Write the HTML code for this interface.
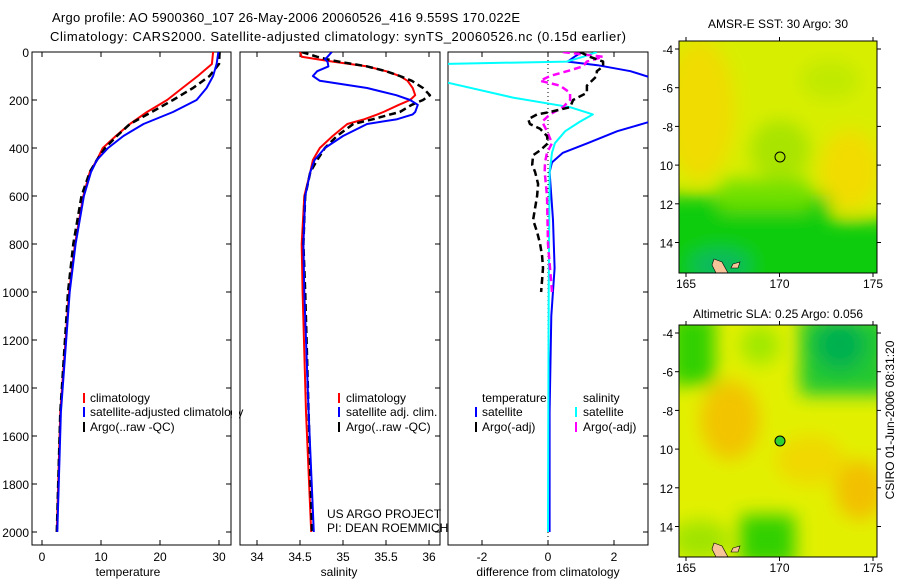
<!DOCTYPE html>
<html><head><meta charset="utf-8"><style>
body{margin:0;background:#fff;}
svg{display:block;font-family:"Liberation Sans",sans-serif;}
</style></head><body>
<svg id="c" width="900" height="580" xmlns="http://www.w3.org/2000/svg">
<defs>
<filter id="bl" x="-50%" y="-50%" width="200%" height="200%"><feGaussianBlur stdDeviation="9"/></filter>
<clipPath id="cp1"><rect x="32" y="52" width="199" height="493"/></clipPath>
<clipPath id="cp2"><rect x="240" y="52" width="200" height="493"/></clipPath>
<clipPath id="cp3"><rect x="448" y="52" width="200" height="493"/></clipPath>
<clipPath id="cm1"><rect x="679" y="41" width="198" height="232"/></clipPath>
<clipPath id="cm2"><rect x="679" y="325" width="198" height="232"/></clipPath>
</defs>
<text x="52" y="22" font-size="13" textLength="468">Argo profile: AO 5900360_107 26-May-2006 20060526_416 9.559S 170.022E</text>
<text x="50" y="41" font-size="13" textLength="576">Climatology: CARS2000. Satellite-adjusted climatology: synTS_20060526.nc (0.15d earlier)</text>

<!-- map 1 -->
<g clip-path="url(#cm1)">
<rect x="679" y="41" width="198" height="232" fill="#d8ee00"/>
<g filter="url(#bl)">
<ellipse cx="700" cy="110" rx="35" ry="70" fill="#f0dc00"/>
<ellipse cx="850" cy="170" rx="30" ry="40" fill="#f2dc00"/>
<ellipse cx="780" cy="150" rx="30" ry="30" fill="#a8e400"/>
<ellipse cx="830" cy="80" rx="30" ry="20" fill="#c0ea00"/>
<rect x="660" y="195" width="170" height="100" fill="#10cc10"/>
<rect x="800" y="220" width="100" height="80" fill="#10cc10"/>
<rect x="720" y="180" width="90" height="30" fill="#70e000"/>
<ellipse cx="720" cy="265" rx="30" ry="15" fill="#10b860"/>
</g>
<polygon points="714,259 722,262 728,273 716,273 712,265" fill="#f7c49a" stroke="#000" stroke-width="0.6"/>
<polygon points="733,264 740,262 738,268 731,268" fill="#f7c49a" stroke="#000" stroke-width="0.6"/>
<circle cx="780" cy="157" r="5" fill="none" stroke="#000" stroke-width="1"/>
</g>
<rect x="679" y="41" width="198" height="232" fill="none" stroke="#000"/>
<text x="778" y="28" font-size="12" text-anchor="middle">AMSR-E SST: 30 Argo: 30</text>

<!-- map 2 -->
<g clip-path="url(#cm2)">
<rect x="679" y="325" width="198" height="232" fill="#e2f000"/>
<g filter="url(#bl)">
<ellipse cx="730" cy="420" rx="30" ry="40" fill="#f2c400"/>
<ellipse cx="860" cy="490" rx="25" ry="30" fill="#f2c000"/>
<ellipse cx="810" cy="460" rx="35" ry="25" fill="#f0d800"/>
<rect x="670" y="315" width="45" height="70" fill="#30d000"/>
<rect x="800" y="315" width="90" height="80" fill="#20c830"/>
<ellipse cx="840" cy="345" rx="25" ry="25" fill="#00b050"/>
<rect x="740" y="515" width="55" height="50" fill="#30d000"/>
<ellipse cx="760" cy="345" rx="20" ry="20" fill="#a0e800"/>
<ellipse cx="700" cy="540" rx="30" ry="20" fill="#a0e400"/>
</g>
<polygon points="714,543 722,546 728,557 716,557 712,549" fill="#f7c49a" stroke="#000" stroke-width="0.6"/>
<polygon points="733,548 740,546 738,552 731,552" fill="#f7c49a" stroke="#000" stroke-width="0.6"/>
<circle cx="780" cy="441" r="5" fill="#30d030" stroke="#000" stroke-width="1"/>
</g>
<rect x="679" y="325" width="198" height="232" fill="none" stroke="#000"/>
<text x="778" y="318" font-size="12" text-anchor="middle">Altimetric SLA: 0.25 Argo: 0.056</text>
<text transform="translate(894,420) rotate(-90)" font-size="12" text-anchor="middle">CSIRO 01-Jun-2006 08:31:20</text>

<g id="maxes"></g>
<g id="plots"></g>

<text x="90" y="402" font-size="12">climatology</text>
<text x="90" y="416" font-size="12">satellite-adjusted climatology</text>
<text x="90" y="431" font-size="12">Argo(..raw -QC)</text>
<rect x="83" y="393" width="2" height="10" fill="#f00"/><rect x="83" y="407" width="2" height="10" fill="#00f"/><rect x="83" y="422" width="2" height="10" fill="#000"/>
<rect x="232" y="390" width="7" height="45" fill="#fff"/>
<text x="346" y="402" font-size="12">climatology</text>
<text x="346" y="416" font-size="12">satellite adj. clim.</text>
<text x="346" y="431" font-size="12">Argo(..raw -QC)</text>
<rect x="338" y="393" width="2" height="10" fill="#f00"/><rect x="338" y="407" width="2" height="10" fill="#00f"/><rect x="338" y="422" width="2" height="10" fill="#000"/>
<text x="327" y="518" font-size="12">US ARGO PROJECT</text>
<text x="327" y="532" font-size="12">PI: DEAN ROEMMICH</text>
<text x="482" y="402" font-size="12">temperature</text>
<text x="482" y="416" font-size="12">satellite</text>
<text x="482" y="431" font-size="12">Argo(-adj)</text>
<rect x="475" y="407" width="2" height="10" fill="#00f"/><rect x="475" y="422" width="2" height="10" fill="#000"/>
<text x="583" y="402" font-size="12">salinity</text>
<text x="583" y="416" font-size="12">satellite</text>
<text x="583" y="431" font-size="12">Argo(-adj)</text>
<rect x="575" y="407" width="2" height="10" fill="#0ff"/><rect x="575" y="422" width="2" height="10" fill="#f0f"/>
</svg>
<script>
const depthTicks=[0,200,400,600,800,1000,1200,1400,1600,1800,2000];
const tempTicks=[0,10,20,30];
const salTicks=[34,34.5,35,35.5,36];
const salTickLabels=["34","34.5","35","35.5","36"];
const diffTicks=[-2,0,2];
const tempDepth=[0,50,100,150,200,250,300,350,400,450,500,600,800,1000,1200,1500,2000];
const tempClim=[29.0,28.8,26.4,23.8,21.2,17.8,14.9,12.5,10.3,9.3,8.1,7.0,5.6,4.6,4.0,3.1,2.5];
const tempSat=[29.9,29.6,29.0,27.9,26.2,22.2,17.2,13.8,11.2,9.3,8.3,7.1,5.7,4.7,4.1,3.2,2.6];
const tempArgo=[30.1,30.0,28.4,25.6,22.2,18.6,14.9,12.7,10.7,9.3,8.1,6.7,5.3,4.4,3.9,3.1,2.5];
const salDepth=[0,20,30,40,60,80,100,120,150,180,200,220,250,260,280,300,350,400,450,500,600,800,1000,1500,2000];
const salClim=[34.5,34.52,34.7,34.88,35.28,35.5,35.66,35.75,35.81,35.84,35.78,35.65,35.47,35.4,35.25,35.05,34.88,34.73,34.65,34.62,34.55,34.52,34.53,34.57,34.63];
const salSat=[34.87,34.82,34.79,34.82,34.83,34.7,34.65,34.73,35.28,35.62,35.78,35.87,35.84,35.81,35.63,35.28,35.0,34.79,34.67,34.62,34.56,34.54,34.55,34.6,34.66];
const salArgo=[34.52,34.7,34.81,34.95,35.28,35.5,35.66,35.8,35.93,36.01,35.93,35.8,35.66,35.55,35.35,35.12,34.93,34.79,34.7,34.62,34.56,34.54,34.56,34.6,34.64];
const dBlueDepth=[0,20,40,55,80,110,150,250,290,330,380,420,460,500,700,900,1100,1500,2000];
const dBlue=[1.03,0.8,0.6,1.5,2.5,3.2,4,4,3.1,2.1,1.2,0.45,0.12,0.05,0.15,0.2,0.1,0.05,0.05];
const dCyanDepth=[0,20,40,50,100,120,130,190,230,260,290,330,380,420,500,1000,2000];
const dCyan=[1.48,1.06,0.57,-3.3,-3.3,-3.3,-2.97,-1.06,0.67,1.36,0.97,0.52,0.21,0.12,0.05,0.02,0.0];
const dMagDepth=[0,20,40,60,80,100,120,140,170,200,230,260,290,330,380,420,460,500,600,800,1000];
const dMag=[0.45,1.67,1.18,1.06,0.58,0.06,-0.24,0.36,0.67,0.67,0.45,0.06,-0.18,-0.03,0.12,-0.03,-0.09,-0.1,-0.03,0.0,0.12];
const dArgoDepth=[0,20,40,60,80,100,140,170,200,230,250,260,280,300,320,350,380,410,430,470,500,550,600,650,700,750,800,850,900,950,1000];
const dArgo=[0.97,1.27,1.67,1.67,1.48,1.48,1.18,1.18,0.76,0.67,0.06,-0.33,-0.6,-0.55,-0.24,-0.03,0,-0.24,-0.45,-0.48,-0.39,-0.3,-0.33,-0.39,-0.45,-0.33,-0.24,-0.18,-0.15,-0.18,-0.21];
const lonTicks=[165,170,175];
const latTicks=[-4,-6,-8,-10,-12,-14];
const latLabels=["-4","-6","-8","10","12","14"];

const NS="http://www.w3.org/2000/svg";
const svg=document.getElementById('c');
const plots=document.getElementById('plots');
const maxes=document.getElementById('maxes');
function yD(d){return 52+d*0.24;}
const panels=[
 {x0:32,x1:231,sx:v=>42+v*5.9,clip:'cp1',name:'temperature'},
 {x0:240,x1:440,sx:v=>257+(v-34)*86,clip:'cp2',name:'salinity'},
 {x0:448,x1:648,sx:v=>548+v*33,clip:'cp3',name:'difference'}
];
function mk(tag,attrs,parent){const e=document.createElementNS(NS,tag);for(const k in attrs)e.setAttribute(k,attrs[k]);(parent||svg).appendChild(e);return e;}
function txt(x,y,s,anchor,parent){const t=mk('text',{x:x,y:y,'font-size':12,'text-anchor':anchor},parent);t.textContent=s;return t;}
panels.forEach((p,i)=>{
 const r=mk('rect',{x:p.x0,y:52,width:p.x1-p.x0,height:493,fill:'none',stroke:'#000'},maxes);
 
 
 depthTicks.forEach(d=>{
  mk('line',{x1:p.x1-5,x2:p.x1,y1:yD(d),y2:yD(d),stroke:'#000'},maxes);
  if(i===0){mk('line',{x1:p.x0,x2:p.x0+5,y1:yD(d),y2:yD(d),stroke:'#000'},maxes);
   const t=txt(29,yD(d)+5,String(d),'end',maxes);
   
   }
 });
});
function xticks(p,ticks,labels){ticks.forEach((v,k)=>{const x=p.sx(v);mk('line',{x1:x,x2:x,y1:540,y2:545,stroke:'#000'},maxes);mk('line',{x1:x,x2:x,y1:52,y2:57,stroke:'#000'},maxes);
 const t=txt(x,561,labels[k],'middle',maxes);
 
 });}
xticks(panels[0],tempTicks,tempTicks.map(String));
xticks(panels[1],salTicks,salTickLabels);
xticks(panels[2],diffTicks,diffTicks.map(String));
[['temperature',128],['salinity',339],['difference from climatology',548]].forEach(a=>{const t=txt(a[1],576,a[0],'middle',maxes);
 
 });
// zero line panel 3
const zl=mk('line',{x1:548,x2:548,y1:52,y2:545,stroke:'#000','stroke-dasharray':'1,3'},plots);


function line(p,depths,vals,color,dash,w,name){
 const g=mk('g',{'clip-path':'url(#'+p.clip+')'},plots);
 const pts=depths.map((d,k)=>p.sx(vals[k]).toFixed(1)+','+yD(d).toFixed(1)).join(' ');
 const a={points:pts,fill:'none',stroke:color,'stroke-width':w,'stroke-linejoin':'round'};
 if(dash)a['stroke-dasharray']=dash;
 const l=mk('polyline',a,g);
 
 
}
line(panels[0],tempDepth,tempClim,'#f00',null,2,'temp-climatology-line');
line(panels[0],tempDepth,tempArgo,'#000','7,4',2.5,'temp-argo-line');
line(panels[0],tempDepth,tempSat,'#00f',null,2,'temp-satellite-line');
line(panels[1],salDepth,salClim,'#f00',null,2,'sal-climatology-line');
line(panels[1],salDepth,salArgo,'#000','7,4',2.5,'sal-argo-line');
line(panels[1],salDepth,salSat,'#00f',null,2,'sal-satellite-line');
line(panels[2],dBlueDepth,dBlue,'#00f',null,2,'diff-temp-satellite-line');
line(panels[2],dCyanDepth,dCyan,'#0ff',null,2,'diff-sal-satellite-line');
line(panels[2],dMagDepth,dMag,'#f0f','7,4',2.5,'diff-sal-argo-line');
line(panels[2],dArgoDepth,dArgo,'#000','7,4',2.5,'diff-temp-argo-line');
// map axes
[[41,273],[325,557]].forEach((m,mi)=>{
 const lx=v=>686+(v-165)*18.7;
 const ly=v=>m[0]+8+(-4-v)*19.35;
 lonTicks.forEach(v=>{mk('line',{x1:lx(v),x2:lx(v),y1:m[1],y2:m[1]+4,stroke:'#000'});mk('line',{x1:lx(v),x2:lx(v),y1:m[0]-4,y2:m[0],stroke:'#000'});
  const t=txt(lx(v),m[1]+15,String(v),'middle');
  
  });
 latTicks.forEach((v,k)=>{mk('line',{x1:675,x2:679,y1:ly(v),y2:ly(v),stroke:'#000'});mk('line',{x1:877,x2:881,y1:ly(v),y2:ly(v),stroke:'#000'});
  const t=txt(673,ly(v)+5,latLabels[k],'end');
  
  });
});
</script>
</body></html>
